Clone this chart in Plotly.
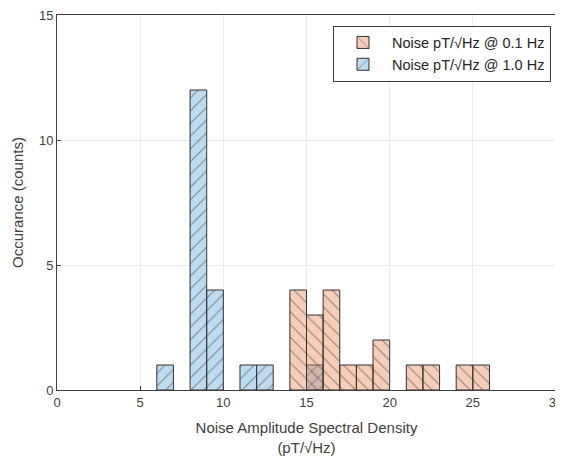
import plotly.graph_objects as go

# Bin left edges (bin width 1) and counts
bins_01 = [14, 15, 16, 17, 18, 19, 21, 22, 24, 25]
counts_01 = [4, 3, 4, 1, 1, 2, 1, 1, 1, 1]
bins_10 = [6, 8, 9, 11, 12, 15]
counts_10 = [1, 12, 4, 1, 1, 1]
bin_width = 1

label_01 = "Noise pT/√Hz @ 0.1 Hz"
label_10 = "Noise pT/√Hz @ 1.0 Hz"

font = "Liberation Sans, Arial, sans-serif"

fig = go.Figure()
fig.add_trace(go.Bar(
    x=[b + bin_width / 2 for b in bins_10], y=counts_10, width=bin_width,
    name=label_10, legendrank=2,
    marker=dict(color="rgba(100,170,220,0.42)",
                line=dict(color="#333333", width=1),
                pattern=dict(shape="/", fgcolor="#333333", size=9, solidity=0.12)),
))
fig.add_trace(go.Bar(
    x=[b + bin_width / 2 for b in bins_01], y=counts_01, width=bin_width,
    name=label_01, legendrank=1,
    marker=dict(color="rgba(232,130,80,0.40)",
                line=dict(color="#333333", width=1),
                pattern=dict(shape="\\", fgcolor="#333333", size=9, solidity=0.12)),
))

fig.update_layout(
    width=555, height=448,
    barmode="overlay",
    paper_bgcolor="white", plot_bgcolor="white",
    margin=dict(l=49, r=7, t=7, b=66),
    font=dict(family=font, size=13, color="#404040"),
    showlegend=True,
    legend=dict(x=0.99, y=0.972, xanchor="right", yanchor="top",
                bordercolor="#404040", borderwidth=1, bgcolor="white",
                font=dict(size=14.5, color="#262626"),
                tracegroupgap=0, itemwidth=48),
    xaxis=dict(range=[0, 30], tickvals=[0, 5, 10, 15, 20, 25, 30],
               ticks="inside", ticklen=4, tickcolor="#404040",
               ticklabeloverflow="allow",
               showline=True, linecolor="#404040", linewidth=1, mirror=True,
               showgrid=True, gridcolor="#ebebeb", zeroline=False, automargin=False,
               title=dict(text="Noise Amplitude Spectral Density<br>(pT/√Hz)",
                          font=dict(size=15, color="#404040"), standoff=14)),
    yaxis=dict(range=[0, 15], tickvals=[0, 5, 10, 15],
               ticks="inside", ticklen=4, tickcolor="#404040",
               ticklabeloverflow="allow",
               showline=True, linecolor="#404040", linewidth=1, mirror=True,
               showgrid=True, gridcolor="#ebebeb", zeroline=False, automargin=False,
               title=dict(text="Occurance (counts)",
                          font=dict(size=15, color="#404040"), standoff=11)),
)

fig.write_html("out.html")
